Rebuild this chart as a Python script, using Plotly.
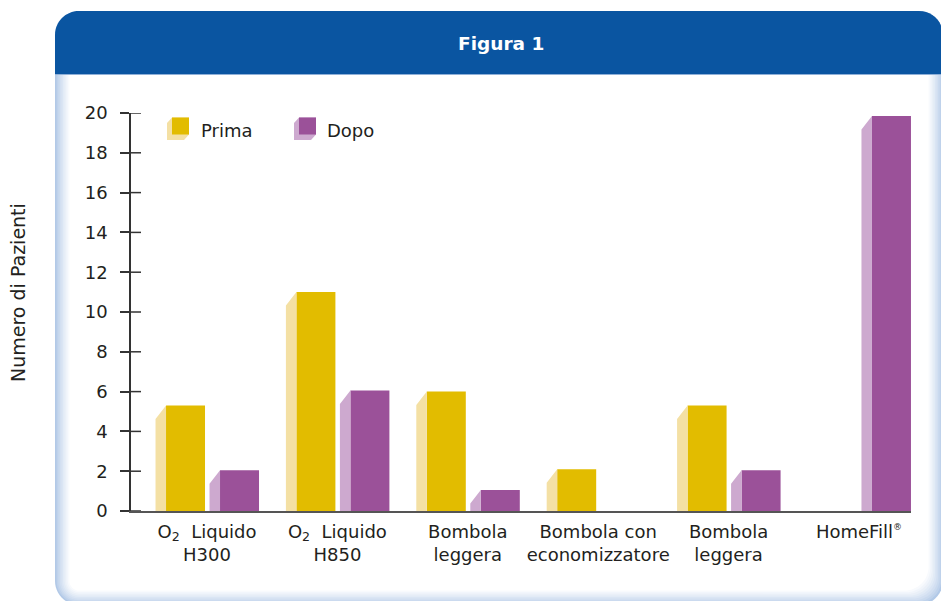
import plotly.graph_objects as go

# ---- data ----
categories = [
    "O<sub>2</sub>  Liquido<br>H300",
    "O<sub>2</sub>  Liquido<br>H850",
    "Bombola<br>leggera",
    "Bombola con<br>economizzatore",
    "Bombola<br>leggera",
    "HomeFill<sup><span style='font-size:9px'>®</span></sup>",
]
prima = [5.3, 11.0, 6.0, 2.1, 5.3, 0.0]
dopo = [2.05, 6.05, 1.05, 0.0, 2.05, 19.85]
y_ticks = [0, 2, 4, 6, 8, 10, 12, 14, 16, 18, 20]

# ---- styling ----
FONT = "DejaVu Sans"
TXT = "#231f20"
PRIMA_FRONT, PRIMA_SIDE = "#e2bc00", "#f4e0a4"
DOPO_FRONT, DOPO_SIDE = "#9b5199", "#cda9cf"
HEADER = "#0a55a1"

W, H = 941, 601
L, T, PW, PH = 131, 113, 780, 398          # plot area in pixels
X0, X1 = -0.583, 5.399                      # category axis range
UX = PW / (X1 - X0)                         # px per category unit
UY = PH / 20.0                              # px per y unit

BAR_W = 39 / UX
SIDE_W = 10.5 / UX
SIDE_DROP = 13.5 / UY
OFF_PRIMA = -21.5 / UX
OFF_DOPO = 32.5 / UX


def px(x):
    return (x - L) / PW


def py(y):
    return (T + PH - y) / PH


def rrect(x0, y0, x1, y1, rtl, rtr, rbr, rbl):
    k = 0.5523

    def P(x, y):
        return f"{px(x):.5f},{py(y):.5f}"

    pts = [
        f"M{P(x0 + rtl, y0)}",
        f"L{P(x1 - rtr, y0)}",
        f"C{P(x1 - rtr + k * rtr, y0)} {P(x1, y0 + rtr - k * rtr)} {P(x1, y0 + rtr)}",
        f"L{P(x1, y1 - rbr)}",
        f"C{P(x1, y1 - rbr + k * rbr)} {P(x1 - rbr + k * rbr, y1)} {P(x1 - rbr, y1)}",
        f"L{P(x0 + rbl, y1)}",
        f"C{P(x0 + rbl - k * rbl, y1)} {P(x0, y1 - rbl + k * rbl)} {P(x0, y1 - rbl)}",
        f"L{P(x0, y0 + rtl)}",
        f"C{P(x0, y0 + rtl - k * rtl)} {P(x0 + rtl - k * rtl, y0)} {P(x0 + rtl, y0)}",
        "Z",
    ]
    return " ".join(pts)


def poly(points):
    return "M" + " L".join(f"{px(x):.5f},{py(y):.5f}" for x, y in points) + " Z"


def side_faces(values, offset):
    xs, ys = [], []
    for i, v in enumerate(values):
        if v <= 0:
            continue
        xf = i + offset - BAR_W / 2
        xl = xf - SIDE_W
        xs += [xl, xl, xf, xf, xl, None]
        ys += [0, v - SIDE_DROP, v, 0, 0, None]
    return xs, ys


fig = go.Figure()

for vals, off, side in [(prima, OFF_PRIMA, PRIMA_SIDE), (dopo, OFF_DOPO, DOPO_SIDE)]:
    sx, sy = side_faces(vals, off)
    fig.add_trace(go.Scatter(
        x=sx, y=sy, mode="lines", fill="toself", fillcolor=side,
        line=dict(width=0, color=side), hoverinfo="skip", showlegend=False,
    ))

for name, vals, off, col in [("Prima", prima, OFF_PRIMA, PRIMA_FRONT),
                             ("Dopo", dopo, OFF_DOPO, DOPO_FRONT)]:
    fig.add_trace(go.Bar(
        name=name, x=[i + off for i in range(len(vals))], y=vals,
        width=BAR_W, marker=dict(color=col, line=dict(width=0)),
        hoverinfo="skip", showlegend=False,
    ))

shapes = []

# card with soft blue inner edge
edge = (178, 201, 231)
N = 10
for k in range(N):
    t = (k / (N - 1)) ** 0.8
    c = tuple(round(e + (255 - e) * t) for e in edge)
    ins = k * 1.6
    shapes.append(dict(
        type="path", xref="paper", yref="paper", layer="below",
        path=rrect(55 + ins, 11, 943 - ins, 605 - ins, 24, 24, 24, max(24 - ins, 4)),
        fillcolor=f"rgb{c}", line=dict(width=0),
    ))

# header band
shapes.append(dict(
    type="path", xref="paper", yref="paper", layer="below",
    path=rrect(55, 11, 943, 74, 24, 24, 0, 0),
    fillcolor=HEADER, line=dict(width=0),
))
shapes.append(dict(
    type="line", xref="paper", yref="paper", layer="below",
    x0=px(55), x1=px(943), y0=py(74.5), y1=py(74.5),
    line=dict(color="#8fb0d8", width=1),
))

# inner half of the y ticks
for v in y_ticks:
    shapes.append(dict(
        type="line", xref="paper", yref="y", x0=0, x1=10 / PW, y0=v, y1=v,
        line=dict(color="#333333", width=1.5),
    ))

# legend swatches
for xf, front, side in [(172, PRIMA_FRONT, PRIMA_SIDE), (299, DOPO_FRONT, DOPO_SIDE)]:
    shapes.append(dict(
        type="path", xref="paper", yref="paper",
        path=poly([(xf - 5, 123), (xf, 117.5), (xf + 17, 117.5), (xf + 17, 134.5),
                   (xf + 12, 140), (xf - 5, 140)]),
        fillcolor=side, line=dict(width=0),
    ))
    shapes.append(dict(
        type="rect", xref="paper", yref="paper",
        x0=px(xf), x1=px(xf + 17), y0=py(134.5), y1=py(117.5),
        fillcolor=front, line=dict(width=0),
    ))

annotations = [
    dict(text="<b>Figura 1</b>", x=px(501), y=py(44), xref="paper", yref="paper",
         showarrow=False, font=dict(family=FONT, size=18.5, color="white"),
         xanchor="center", yanchor="middle"),
    dict(text="Numero di Pazienti", x=px(18), y=py(292), xref="paper", yref="paper",
         showarrow=False, textangle=-90, font=dict(family=FONT, size=19, color=TXT),
         xanchor="center", yanchor="middle"),
    dict(text="Prima", x=px(199), y=py(130.5), xref="paper", yref="paper",
         showarrow=False, font=dict(family=FONT, size=18, color=TXT),
         xanchor="left", yanchor="middle"),
    dict(text="Dopo", x=px(325), y=py(130.5), xref="paper", yref="paper",
         showarrow=False, font=dict(family=FONT, size=18, color=TXT),
         xanchor="left", yanchor="middle"),
]

fig.update_layout(
    width=W, height=H,
    margin=dict(l=L, r=W - L - PW, t=T, b=H - T - PH, autoexpand=False),
    paper_bgcolor="white", plot_bgcolor="rgba(0,0,0,0)",
    barmode="overlay", showlegend=False,
    font=dict(family=FONT, size=18, color=TXT),
    shapes=shapes, annotations=annotations,
    xaxis=dict(
        range=[X0, X1], tickvals=list(range(len(categories))), ticktext=categories,
        showgrid=False, zeroline=False, showline=True, linecolor="#555555", linewidth=2,
        ticks="", ticklabelstandoff=3,
        tickfont=dict(family=FONT, size=18, color=TXT), fixedrange=True,
    ),
    yaxis=dict(
        range=[0, 20], tickvals=y_ticks, showgrid=False, zeroline=False,
        showline=True, linecolor="#333333", linewidth=1.5,
        ticks="outside", ticklen=9, tickwidth=1.5, tickcolor="#333333",
        ticklabelstandoff=9,
        tickfont=dict(family=FONT, size=18, color=TXT), fixedrange=True,
    ),
)

fig.write_html("out.html")
